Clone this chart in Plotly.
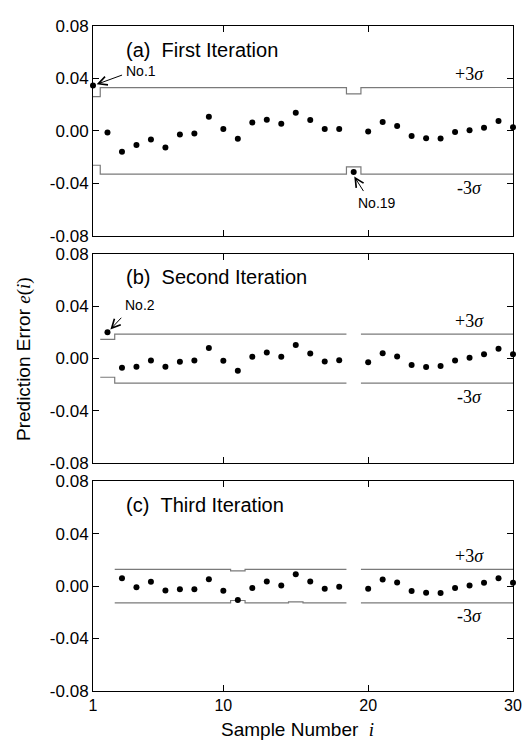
import plotly.graph_objects as go
from plotly.subplots import make_subplots

samples = list(range(1, 31))

err_a = [0.0347, -0.0013, -0.0158, -0.0108, -0.0065, -0.0126, -0.0028, -0.0020, 0.0108, 0.0015,
         -0.0060, 0.0065, 0.0086, 0.0055, 0.0138, 0.0083, 0.0015, 0.0015, -0.0314, -0.0005,
         0.0068, 0.0038, -0.0038, -0.0055, -0.0058, -0.0008, 0.0005, 0.0025, 0.0075, 0.0028]
err_b = [None, 0.0201, -0.0070, -0.0063, -0.0015, -0.0063, -0.0025, -0.0015, 0.0080, -0.0018,
         -0.0093, 0.0013, 0.0045, 0.0013, 0.0103, 0.0038, -0.0023, -0.0013, None, -0.0028,
         0.0040, 0.0015, -0.0050, -0.0065, -0.0058, -0.0015, 0.0005, 0.0033, 0.0075, 0.0033]
err_c = [None, None, 0.0060, -0.0008, 0.0033, -0.0033, -0.0025, -0.0025, 0.0053, -0.0035,
         -0.0106, -0.0015, 0.0035, 0.0005, 0.0090, 0.0035, -0.0020, -0.0005, None, -0.0020,
         0.0050, 0.0028, -0.0038, -0.0050, -0.0053, -0.0015, 0.0005, 0.0025, 0.0060, 0.0025]

ucl_a = [0.0262, 0.0330, 0.0330, 0.0329, 0.0330, 0.0328, 0.0329, 0.0330, 0.0330, 0.0330,
         0.0328, 0.0329, 0.0330, 0.0330, 0.0329, 0.0330, 0.0330, 0.0330, 0.0282, 0.0330,
         0.0330, 0.0330, 0.0330, 0.0329, 0.0330, 0.0330, 0.0331, 0.0331, 0.0331, 0.0331]
lcl_a = [-0.0262, -0.0330, -0.0330, -0.0329, -0.0330, -0.0330, -0.0329, -0.0330, -0.0330, -0.0330,
         -0.0330, -0.0329, -0.0330, -0.0330, -0.0329, -0.0330, -0.0330, -0.0330, -0.0274, -0.0330,
         -0.0330, -0.0330, -0.0330, -0.0330, -0.0330, -0.0330, -0.0330, -0.0330, -0.0330, -0.0330]
ucl_b = [None, 0.0146, 0.0186, 0.0186, 0.0187, 0.0187, 0.0186, 0.0186, 0.0186, 0.0186,
         0.0185, 0.0186, 0.0186, 0.0186, 0.0186, 0.0186, 0.0186, 0.0186, None, 0.0186,
         0.0186, 0.0186, 0.0186, 0.0186, 0.0186, 0.0186, 0.0186, 0.0186, 0.0186, 0.0186]
lcl_b = [None, -0.0143, -0.0188, -0.0188, -0.0188, -0.0188, -0.0188, -0.0188, -0.0188, -0.0188,
         -0.0187, -0.0188, -0.0188, -0.0188, -0.0188, -0.0188, -0.0188, -0.0188, None, -0.0188,
         -0.0188, -0.0188, -0.0188, -0.0188, -0.0188, -0.0188, -0.0188, -0.0188, -0.0188, -0.0188]
ucl_c = [None, None, 0.0128, 0.0128, 0.0128, 0.0128, 0.0128, 0.0128, 0.0128, 0.0128,
         0.0116, 0.0128, 0.0128, 0.0128, 0.0126, 0.0128, 0.0128, 0.0128, None, 0.0128,
         0.0128, 0.0128, 0.0128, 0.0128, 0.0128, 0.0128, 0.0128, 0.0128, 0.0128, 0.0128]
lcl_c = [None, None, -0.0128, -0.0128, -0.0128, -0.0128, -0.0128, -0.0128, -0.0128, -0.0128,
         -0.0110, -0.0128, -0.0128, -0.0128, -0.0120, -0.0128, -0.0128, -0.0128, None, -0.0128,
         -0.0128, -0.0128, -0.0128, -0.0128, -0.0128, -0.0128, -0.0128, -0.0128, -0.0128, -0.0128]

panel_titles = ["(a)\u00a0\u00a0First Iteration", "(b)\u00a0\u00a0Second Iteration", "(c)\u00a0\u00a0Third Iteration"]
y_ticks = [-0.08, -0.04, 0.0, 0.04, 0.08]
y_ticktext = ["-0.08", "-0.04", "0.00", "0.04", "0.08"]
x_ticks = [1, 10, 20, 30]
x_ticktext = ["1", "10", "20", "30"]
XMIN, XMAX = 1, 30

SANS = "Liberation Sans, Arial, Helvetica, sans-serif"
SERIF = "Liberation Serif, Times New Roman, serif"
GRAY = "#7a7a7a"


def step_xy(limits):
    xs, ys = [], []
    for i, v in zip(samples, limits):
        if v is None:
            if xs and xs[-1] is not None:
                xs.append(None)
                ys.append(None)
            continue
        x0 = max(i - 0.5, XMIN)
        x1 = min(i + 0.5, XMAX)
        xs += [x0, x1]
        ys += [v, v]
    return xs, ys


fig = make_subplots(rows=3, cols=1, shared_xaxes=True, vertical_spacing=18 / 674)

panels = [(err_a, ucl_a, lcl_a), (err_b, ucl_b, lcl_b), (err_c, ucl_c, lcl_c)]
for r, (err, ucl, lcl) in enumerate(panels, start=1):
    for lim in (ucl, lcl):
        xs, ys = step_xy(lim)
        fig.add_trace(go.Scatter(x=xs, y=ys, mode="lines", line=dict(color=GRAY, width=1.2),
                                 connectgaps=False, showlegend=False, hoverinfo="skip"), row=r, col=1)
    fig.add_trace(go.Scatter(x=samples, y=err, mode="markers", cliponaxis=False,
                             marker=dict(color="black", size=6), showlegend=False), row=r, col=1)
    fig.update_yaxes(range=[-0.08, 0.08], tickvals=y_ticks, ticktext=y_ticktext,
                     ticks="inside", ticklen=6, tickcolor="black", showline=True, linecolor="black",
                     linewidth=1, mirror="ticks", showgrid=False, zeroline=False,
                     tickfont=dict(family=SANS, size=17, color="black"), row=r, col=1)
    fig.update_xaxes(range=[XMIN, XMAX], tickvals=x_ticks, ticktext=x_ticktext,
                     ticks="inside", ticklen=6, tickcolor="black", showline=True, linecolor="black",
                     linewidth=1, mirror="ticks", showgrid=False, zeroline=False,
                     showticklabels=(r == 3),
                     tickfont=dict(family=SANS, size=16, color="black"), row=r, col=1)

annotations = []
sig_up = [0.0436, 0.0288, 0.0228]
sig_dn = [-0.0436, -0.0290, -0.0230]
for k in range(3):
    xr = "x" if k == 0 else f"x{k+1}"
    yr = "y" if k == 0 else f"y{k+1}"
    annotations.append(dict(x=3.16, y=0.062, xref=xr, yref=yr, text=panel_titles[k], showarrow=False,
                            xanchor="left", yanchor="middle", font=dict(family=SANS, size=20, color="black")))
    annotations.append(dict(x=27.0, y=sig_up[k], xref=xr, yref=yr, text="+3<i>\u03c3</i>", showarrow=False,
                            xanchor="center", yanchor="middle", font=dict(family=SERIF, size=18, color="black")))
    annotations.append(dict(x=27.0, y=sig_dn[k], xref=xr, yref=yr, text="-3<i>\u03c3</i>", showarrow=False,
                            xanchor="center", yanchor="middle", font=dict(family=SERIF, size=18, color="black")))

# arrows and callout labels
arrow_style = dict(showarrow=True, arrowhead=5, arrowsize=1.7, arrowwidth=1, arrowcolor="black", text="")
annotations.append(dict(x=1.25, y=0.0355, ax=3.11, ay=0.043, xref="x", yref="y", axref="x", ayref="y", **arrow_style))
annotations.append(dict(x=3.16, y=0.0456, xref="x", yref="y", text="No.1", showarrow=False,
                        xanchor="left", yanchor="middle", font=dict(family=SANS, size=14, color="black")))
annotations.append(dict(x=19.04, y=-0.0348, ax=19.74, ay=-0.0470, xref="x", yref="y", axref="x", ayref="y", **arrow_style))
annotations.append(dict(x=20.6, y=-0.0546, xref="x", yref="y", text="No.19", showarrow=False,
                        xanchor="center", yanchor="middle", font=dict(family=SANS, size=14, color="black")))
annotations.append(dict(x=2.2, y=0.0222, ax=3.05, ay=0.0322, xref="x2", yref="y2", axref="x2", ayref="y2", **arrow_style))
annotations.append(dict(x=3.09, y=0.0405, xref="x2", yref="y2", text="No.2", showarrow=False,
                        xanchor="left", yanchor="middle", font=dict(family=SANS, size=14, color="black")))

# axis titles
annotations.append(dict(x=-0.1655, y=0.5, xref="paper", yref="paper", textangle=-90, showarrow=False,
                        xanchor="center", yanchor="middle",
                        text='Prediction Error <span style="font-family:Liberation Serif, Times New Roman, serif"><i>e</i>(<i>i</i>)</span>',
                        font=dict(family=SANS, size=19, color="black")))
annotations.append(dict(x=0.487, y=-0.058, xref="paper", yref="paper", showarrow=False,
                        xanchor="center", yanchor="middle",
                        text='Sample Number\u00a0\u00a0<span style="font-family:Liberation Serif, Times New Roman, serif"><i>i</i></span>',
                        font=dict(family=SANS, size=19, color="black")))

# page body has an 8px default margin; compensate so the plot lands where the reference has it
fig.update_layout(width=523, height=738, margin=dict(l=85, r=9, t=9, b=55),
                  plot_bgcolor="white", paper_bgcolor="white", showlegend=False,
                  annotations=annotations)

fig.write_html("out.html")
